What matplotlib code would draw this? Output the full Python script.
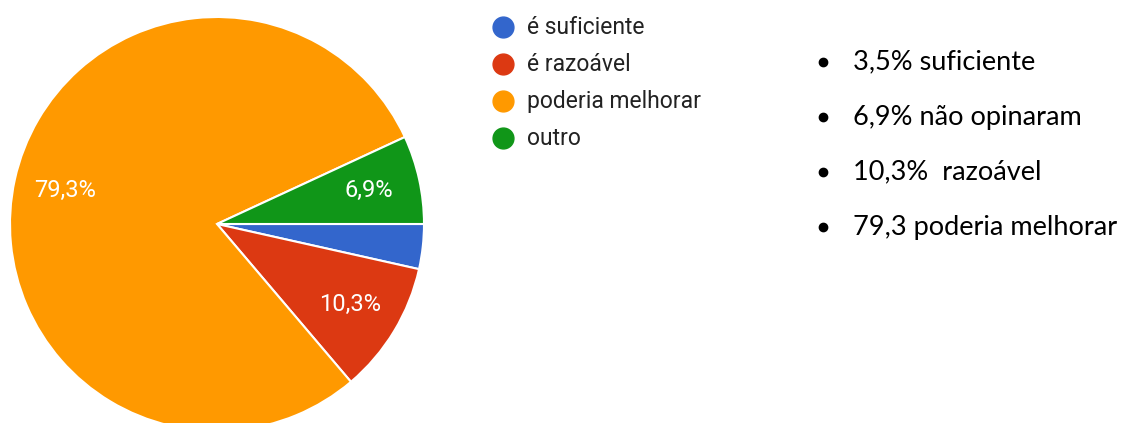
import matplotlib
matplotlib.use("Agg")
import matplotlib.pyplot as plt

# data (percent of answers)
labels = ["é suficiente", "é razoável", "poderia melhorar", "outro"]
values = [3.5, 10.3, 79.3, 6.9]
colors = ["#3366CC", "#DC3912", "#FF9900", "#109618"]

# summary lines written beside the chart
notes = ["3,5% suficiente", "6,9% não opinaram", "10,3%  razoável", "79,3 poderia melhorar"]

W, H = 1126, 423

fig = plt.figure(figsize=(W / 100, H / 100), dpi=100)
ax = fig.add_axes([0, 0, 1, 1])
ax.set_xlim(0, W)
ax.set_ylim(0, H)
ax.set_aspect("equal")
ax.axis("off")


def pct_label(p):
    # google forms hides labels of very small slices
    if p < 5:
        return ""
    return f"{p:.1f}%".replace(".", ",")


wedges, _, autotexts = ax.pie(values, colors=colors, startangle=0, counterclock=False,
                              center=(217, H - 224), radius=207, autopct=pct_label,
                              pctdistance=0.75,
                              wedgeprops=dict(edgecolor="white", linewidth=1.5),
                              textprops=dict(color="white", fontsize=17, family="Roboto"))
ax.set_xlim(0, W)
ax.set_ylim(0, H)

# legend (circles + labels)
for i, (lab, col) in enumerate(zip(labels, colors)):
    y = H - (27 + i * 37)
    ax.plot(503, y, "o", color=col, markersize=15, clip_on=False)
    ax.text(527, y, lab, fontsize=16.5, family="Roboto", color="#222222", va="center", ha="left")

# bullet notes on the right
for i, txt in enumerate(notes):
    y = H - (62 + i * 55)
    ax.plot(823, y, "o", color="black", markersize=6)
    ax.text(853, y, txt, fontsize=19.5, family="Lato", color="black", va="center", ha="left")

fig.savefig("out.png", dpi=100)
